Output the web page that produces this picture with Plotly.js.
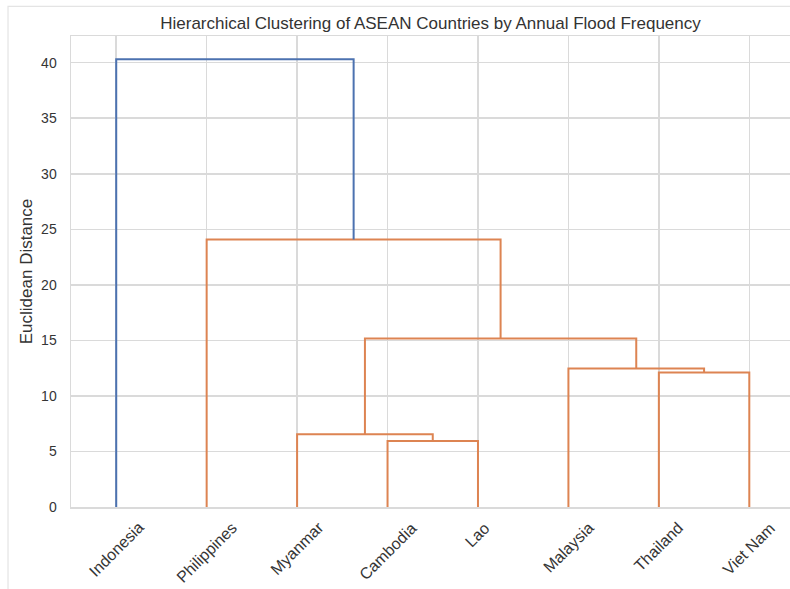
<!DOCTYPE html>
<html>
<head>
<meta charset="utf-8">
<script src="https://cdn.plot.ly/plotly-3.0.1.min.js"></script>
<style>html,body{margin:0;padding:0;background:#fff;}#chart{width:790px;height:589px;}</style>
</head>
<body>
<div id="chart"></div>
<script>
// Leaves in dendrogram order
const countries = ['Indonesia', 'Philippines', 'Myanmar', 'Cambodia', 'Lao', 'Malaysia', 'Thailand', 'Viet Nam'];
// Linkage (scipy-style): cluster ids 0..7 are leaves, 8.. are merged clusters
const linkLeft   = [3, 2, 6, 5, 9, 1, 0];
const linkRight  = [4, 8, 7, 10, 11, 12, 13];
const linkHeight = [5.95, 6.55, 12.1, 12.47, 15.17, 24.07, 40.3];
const yTicks = [0, 5, 10, 15, 20, 25, 30, 35, 40];

const colorThreshold = 0.7 * Math.max(...linkHeight);
const C0 = '#4c72b0', C1 = '#dd8452';

// positions of leaves (scipy convention 5, 15, 25 ...)
const pos = {}, hgt = {};
countries.forEach((c, i) => { pos[i] = 5 + 10 * i; hgt[i] = 0; });
const segs = {};
segs[C0] = {x: [], y: []}; segs[C1] = {x: [], y: []};
const n = countries.length;
linkLeft.forEach((a, k) => {
  const b = linkRight[k], h = linkHeight[k];
  const col = h >= colorThreshold ? C0 : C1;
  const s = segs[col];
  s.x.push(pos[a], pos[a], pos[b], pos[b], null);
  s.y.push(hgt[a], h, h, hgt[b], null);
  pos[n + k] = (pos[a] + pos[b]) / 2;
  hgt[n + k] = h;
});

const traces = [C1, C0].map(col => ({
  type: 'scatter', mode: 'lines', x: segs[col].x, y: segs[col].y,
  line: {color: col, width: 2}, hoverinfo: 'skip', showlegend: false
}));

const FONT = 'Arial, "Liberation Sans", sans-serif';
const leafPos = countries.map((c, i) => 5 + 10 * i);
const annotations = countries.map((c, i) => ({
  x: leafPos[i], xref: 'x', y: -0.02, yref: 'paper',
  text: c, showarrow: false, textangle: -45,
  xanchor: 'center', yanchor: 'top',
  font: {family: FONT, size: 16, color: '#353535'}
}));

const gridColor = '#dadada';
const layout = {
  width: 790, height: 589,
  margin: {l: 71, r: 0, t: 36, b: 82},
  paper_bgcolor: '#ffffff', plot_bgcolor: '#ffffff',
  title: {
    text: 'Hierarchical Clustering of ASEAN Countries by Annual Flood Frequency',
    font: {family: FONT, size: 17, color: '#333333'},
    x: 0.5, xref: 'paper', xanchor: 'center', y: 0.961, yref: 'container', yanchor: 'middle'
  },
  xaxis: {
    range: [0, 79.5], tickvals: leafPos, showticklabels: false, ticks: '',
    showgrid: true, gridcolor: gridColor, gridwidth: 1.5,
    showline: true, linecolor: gridColor, linewidth: 1.5, mirror: true, zeroline: false
  },
  yaxis: {
    range: [0, 42.4], tickvals: yTicks, ticks: '', ticklabelstandoff: 10,
    tickfont: {family: FONT, size: 14, color: '#353535'},
    title: {text: 'Euclidean Distance', standoff: 4,
            font: {family: FONT, size: 17, color: '#333333'}},
    showgrid: true, gridcolor: gridColor, gridwidth: 1.5,
    showline: true, linecolor: gridColor, linewidth: 1.5, mirror: true, zeroline: false
  },
  annotations: annotations,
  shapes: [{
    type: 'rect', xref: 'paper', yref: 'paper',
    x0: -0.0876, x1: 1.05, y0: -0.4, y1: 1.063,
    line: {color: '#e4e4e4', width: 1.2}, layer: 'below'
  }]
};

Plotly.newPlot('chart', traces, layout, {displayModeBar: false, staticPlot: true});
</script>
</body>
</html>
